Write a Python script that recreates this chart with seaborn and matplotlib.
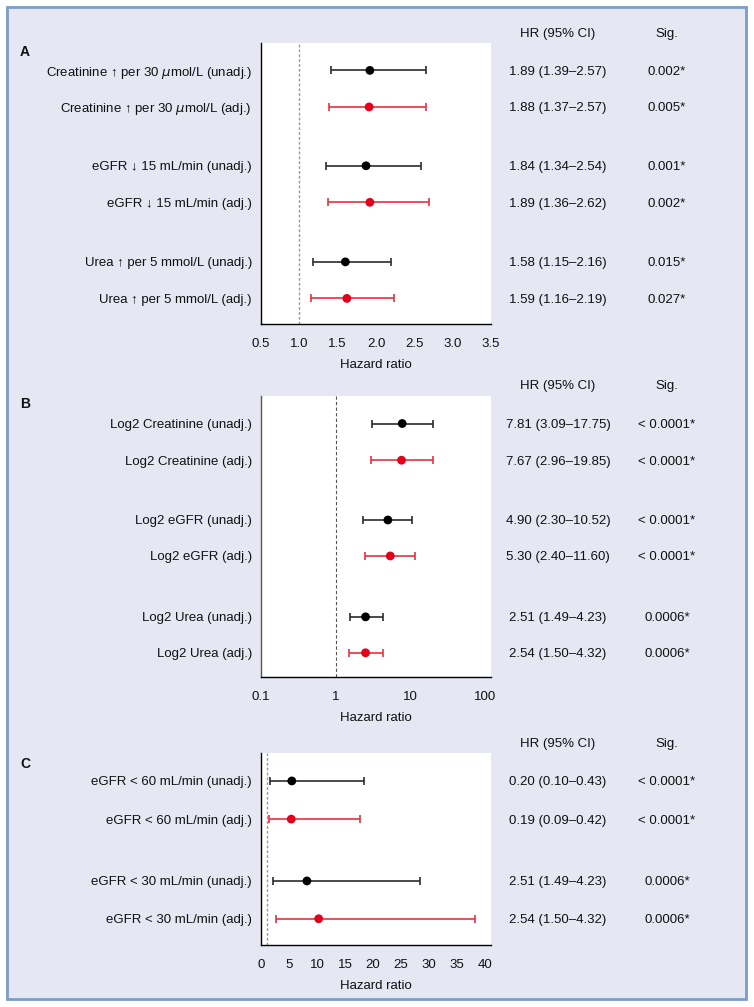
import numpy as np
import pandas as pd
import matplotlib.pyplot as plt
import matplotlib.transforms as mtransforms
from matplotlib.patches import Rectangle
import seaborn as sns

# ---- data ----
# Panel A: continuous, linear HR scale
labels_a = ['Creatinine ↑ per 30 $\\mu$mol/L (unadj.)', 'Creatinine ↑ per 30 $\\mu$mol/L (adj.)',
            'eGFR ↓ 15 mL/min (unadj.)', 'eGFR ↓ 15 mL/min (adj.)',
            'Urea ↑ per 5 mmol/L (unadj.)', 'Urea ↑ per 5 mmol/L (adj.)']
hr_a = [1.92, 1.91, 1.87, 1.92, 1.60, 1.62]
lo_a = [1.41, 1.39, 1.35, 1.37, 1.18, 1.15]
hi_a = [2.65, 2.65, 2.59, 2.69, 2.19, 2.24]
ci_a = ['1.89 (1.39–2.57)', '1.88 (1.37–2.57)', '1.84 (1.34–2.54)',
        '1.89 (1.36–2.62)', '1.58 (1.15–2.16)', '1.59 (1.16–2.19)']
sig_a = ['0.002*', '0.005*', '0.001*', '0.002*', '0.015*', '0.027*']

# Panel B: log2 transformed, log HR scale
labels_b = ['Log2 Creatinine (unadj.)', 'Log2 Creatinine (adj.)',
            'Log2 eGFR (unadj.)', 'Log2 eGFR (adj.)',
            'Log2 Urea (unadj.)', 'Log2 Urea (adj.)']
hr_b = [7.81, 7.65, 5.02, 5.40, 2.52, 2.52]
lo_b = [3.07, 2.94, 2.35, 2.45, 1.54, 1.53]
hi_b = [20.1, 20.3, 10.7, 11.6, 4.35, 4.26]
ci_b = ['7.81 (3.09–17.75)', '7.67 (2.96–19.85)', '4.90 (2.30–10.52)',
        '5.30 (2.40–11.60)', '2.51 (1.49–4.23)', '2.54 (1.50–4.32)']
sig_b = ['< 0.0001*', '< 0.0001*', '< 0.0001*', '< 0.0001*', '0.0006*', '0.0006*']

# Panel C: eGFR thresholds
labels_c = ['eGFR < 60 mL/min (unadj.)', 'eGFR < 60 mL/min (adj.)',
            'eGFR < 30 mL/min (unadj.)', 'eGFR < 30 mL/min (adj.)']
hr_c = [5.5, 5.4, 8.2, 10.3]
lo_c = [1.6, 1.5, 2.1, 2.7]
hi_c = [18.4, 17.7, 28.4, 38.2]
ci_c = ['0.20 (0.10–0.43)', '0.19 (0.09–0.42)', '2.51 (1.49–4.23)', '2.54 (1.50–4.32)']
sig_c = ['< 0.0001*', '< 0.0001*', '0.0006*', '0.0006*']

model = ['unadj.', 'adj.']

# ---- style ----
sns.set_style('white')
plt.rcParams['font.family'] = ['Liberation Sans Narrow', 'Liberation Sans', 'DejaVu Sans']
plt.rcParams['mathtext.fontset'] = 'dejavusans'
plt.rcParams['text.color'] = '#111111'
plt.rcParams['xtick.labelcolor'] = '#111111'
plt.rcParams['ytick.labelcolor'] = '#111111'
plt.rcParams['axes.labelcolor'] = '#111111'
FS = 9.5
W, H = 754, 1007

fig = plt.figure(figsize=(W / 100, H / 100), dpi=100)
fig.patch.set_facecolor('white')
fig.patches.append(Rectangle((7 / W, 1 - 999 / H), 739 / W, 992 / H,
                             transform=fig.transFigure, facecolor='#e5e7f3',
                             edgecolor='#7d9cc6', lw=2, zorder=-10))

palette = {'unadj.': 'black', 'adj.': '#e2001a'}
bar_col = {'unadj.': '#2b2b2b', 'adj.': '#ea3040'}


def fy(px):
    return 1 - px / H


def panel(rect, letter, ypos, labels, hr, lo, hi, ci, sig, ylim, xlim,
          ref_style, head_px, letter_px, spine_col='black'):
    ax = fig.add_axes(rect)
    ax.set_facecolor('white')
    df = pd.DataFrame({'hr': hr, 'lo': lo, 'hi': hi, 'y': ypos,
                       'model': (model * 3)[:len(hr)]})
    ax.axvline(1, zorder=1, **ref_style)
    for m, g in df.groupby('model'):
        ax.errorbar(g['hr'], g['y'], xerr=[g['hr'] - g['lo'], g['hi'] - g['hr']],
                    fmt='none', ecolor=bar_col[m], elinewidth=1.2, capsize=3,
                    capthick=1.2, zorder=2)
    sns.scatterplot(data=df, x='hr', y='y', hue='model', palette=palette,
                    s=40, linewidth=0, legend=False, zorder=3, ax=ax)
    ax.set_xlim(*xlim)
    ax.set_ylim(*ylim)
    ax.set_yticks(ypos)
    ax.set_yticklabels(labels, fontsize=FS)
    ax.tick_params(axis='y', length=0, pad=6.5)
    ax.tick_params(axis='x', direction='out', length=4, width=1, labelsize=FS,
                   pad=6, color='#222')
    ax.set_xlabel('Hazard ratio', fontsize=FS, labelpad=6.5)
    ax.set_ylabel('')
    for s in ['top', 'right']:
        ax.spines[s].set_visible(False)
    ax.spines['left'].set_color(spine_col)
    ax.spines['bottom'].set_color('black')
    ax.spines['left'].set_linewidth(1)
    ax.spines['bottom'].set_linewidth(1)

    tr = mtransforms.blended_transform_factory(fig.transFigure, ax.transData)
    for y, c, s in zip(ypos, ci, sig):
        fig.text(558 / W, y, c, transform=tr, ha='center', va='center_baseline', fontsize=FS)
        fig.text(667 / W, y, s, transform=tr, ha='center', va='center_baseline', fontsize=FS)
    fig.text(558 / W, fy(head_px), 'HR (95% CI)', ha='center', va='center_baseline', fontsize=FS)
    fig.text(667 / W, fy(head_px), 'Sig.', ha='center', va='center_baseline', fontsize=FS)
    fig.text(20 / W, fy(letter_px), letter, ha='left', va='center_baseline',
             fontsize=10, fontweight='bold')
    return ax


left, width = 261 / W, 230 / W
dotted = dict(color='#9a9a9a', lw=1, linestyle=(0, (2, 1.5)))
dashed = dict(color='#555555', lw=0.8, linestyle=(0, (3, 2)))

ax_a = panel([left, fy(324), width, 281 / H], 'A',
             [0, 1, 2.61, 3.61, 5.24, 6.24], labels_a, hr_a, lo_a, hi_a, ci_a, sig_a,
             (6.94, -0.75), (0.5, 3.5), dotted, 33, 51)
ax_a.set_xticks(np.arange(0.5, 3.51, 0.5))
ax_a.set_xticklabels([f'{v:.1f}' for v in np.arange(0.5, 3.51, 0.5)])

ax_b = panel([left, fy(677), width, 281 / H], 'B',
             [0, 1, 2.63, 3.61, 5.27, 6.25], labels_b, hr_b, lo_b, hi_b, ci_b, sig_b,
             (6.91, -0.75), (0.1, 121), dashed, 384, 403, spine_col='#555555')
ax_b.set_xscale('log')
ax_b.set_xlim(0.1, 121)
ax_b.set_xticks([0.1, 1, 10, 100])
ax_b.set_xticklabels(['0.1', '1', '10', '100'])
ax_b.minorticks_off()

ax_c = panel([left, fy(944.7), width, 192 / H], 'C',
             [0, 1, 2.62, 3.61], labels_c, hr_c, lo_c, hi_c, ci_c, sig_c,
             (4.29, -0.74), (0, 41.07), dotted, 742, 763)
ax_c.set_xticks(np.arange(0, 41, 5))

fig.savefig('out.png', dpi=100)
